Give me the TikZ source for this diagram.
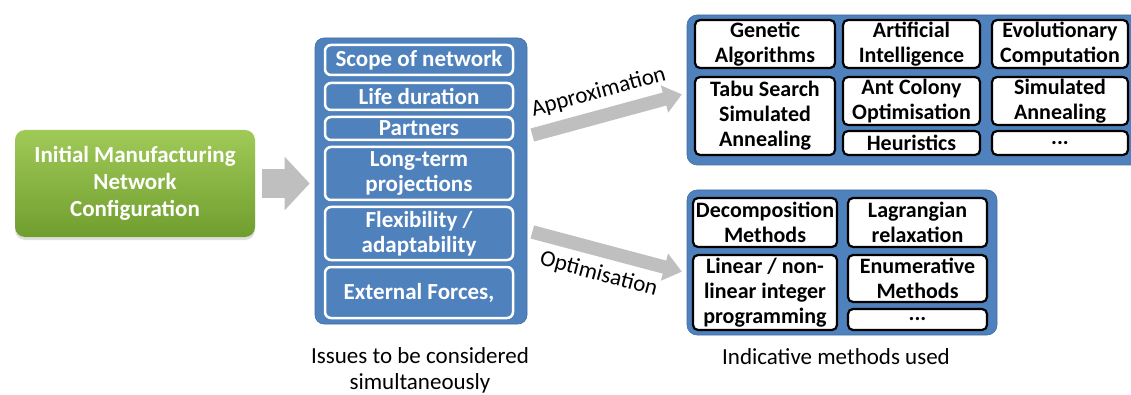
\documentclass[tikz,border=0pt]{standalone}
\usepackage{fontspec}
\setmainfont{Carlito}
\usepackage{tikz}
\usetikzlibrary{arrows.meta,shadows}

\definecolor{panelblue}{RGB}{79,129,189}
\definecolor{arrowgray}{RGB}{191,191,191}
\definecolor{greentop}{RGB}{160,202,88}
\definecolor{greenbot}{RGB}{112,158,46}

\newcommand{\boxfont}{\bfseries\fontsize{22}{25}\selectfont}
\newcommand{\issuefont}{\bfseries\fontsize{23}{25}\selectfont}
\newcommand{\labelfont}{\fontsize{23}{26}\selectfont}

\begin{document}
\begin{tikzpicture}[x=1pt,y=-1pt,
    issuebox/.style={draw=white,line width=2.5pt,fill=panelblue,rounded corners=6pt,
      text=white,font=\issuefont,align=center,inner sep=0pt},
    methodbox/.style={draw=black,line width=2.2pt,fill=white,rounded corners=5pt,
      font=\boxfont,align=center,inner sep=0pt},
    panel/.style={fill=panelblue,draw=panelblue!85!black,line width=0.6pt,rounded corners=10pt,inner sep=0pt},
    bigarrow/.style={draw=arrowgray,line width=29pt,-{Triangle[length=25pt,width=52pt]}},
    thinarrow/.style={draw=arrowgray,line width=13.5pt,-{Triangle[length=18pt,width=27pt]}}]
  \useasboundingbox (0,0) rectangle (1131,395);
  \clip (0,0) rectangle (1131,395);

  % starting point
  \node[rounded corners=10pt,top color=greentop,bottom color=greenbot,
        drop shadow={opacity=0.25,shadow xshift=0pt,shadow yshift=-3pt},
        minimum width=240pt,minimum height=107pt,inner sep=0pt,
        text=white,font=\bfseries\fontsize{23}{27}\selectfont,align=center] (init) at (135,183.5)
        {Initial Manufacturing\\Network\\Configuration};

  % issues column
  \node[panel,rounded corners=9pt,minimum width=212pt,minimum height=286pt] (issues) at (421,181) {};
  \node[issuebox,minimum width=188pt,minimum height=30pt] (scope) at (419,60) {Scope of network};
  \node[issuebox,minimum width=188pt,minimum height=27pt] (life) at (419,96.5) {Life duration};
  \node[issuebox,minimum width=188pt,minimum height=23pt] (partners) at (419,128.5) {Partners};
  \node[issuebox,minimum width=188pt,minimum height=53pt] (longterm) at (419,173.5) {Long-term\\projections};
  \node[issuebox,minimum width=188pt,minimum height=53pt] (flex) at (419,233.5) {Flexibility /\\adaptability};
  \node[issuebox,minimum width=188pt,minimum height=51pt] (external) at (419,292.5) {External Forces,};

  % approximation methods
  \node[panel,minimum width=458pt,minimum height=150pt] (approx) at (916,90) {};
  \node[methodbox,minimum width=140pt,minimum height=48pt] (genetic) at (765,44) {Genetic\\Algorithms};
  \node[methodbox,minimum width=137pt,minimum height=48pt] (artificial) at (911.5,44) {Artificial\\Intelligence};
  \node[methodbox,minimum width=136pt,minimum height=48pt] (evolution) at (1060,44) {Evolutionary\\Computation};
  \node[methodbox,minimum width=140pt,minimum height=78pt] (tabu) at (765,116) {Tabu Search\\Simulated\\Annealing};
  \node[methodbox,minimum width=137pt,minimum height=48pt] (antcol) at (911.5,101) {Ant Colony\\Optimisation};
  \node[methodbox,minimum width=136pt,minimum height=48pt] (simann) at (1060,101) {Simulated\\Annealing};
  \node[methodbox,minimum width=137pt,minimum height=24pt] (heur) at (911.5,143) {Heuristics};
  \node[methodbox,minimum width=136pt,minimum height=24pt] (dotsA) at (1060,143) {...};

  % optimisation methods
  \node[panel,minimum width=310pt,minimum height=145pt] (optim) at (842,262.5) {};
  \node[methodbox,minimum width=144pt,minimum height=49pt] (decomp) at (765,222.5) {Decomposition\\Methods};
  \node[methodbox,minimum width=139pt,minimum height=49pt] (lagrange) at (917.5,222.5) {Lagrangian\\relaxation};
  \node[methodbox,minimum width=144pt,minimum height=75pt] (linear) at (765,292.5) {Linear / non-\\linear integer\\programming};
  \node[methodbox,minimum width=139pt,minimum height=47pt] (enum) at (917.5,278.5) {Enumerative\\Methods};
  \node[methodbox,minimum width=139pt,minimum height=21pt] (dotsB) at (917.5,319.5) {...};

  % captions
  \node[font=\labelfont,align=center] (capissues) at (420,370) {Issues to be considered\\simultaneously};
  \node[font=\labelfont] (capmethods) at (836,357) {Indicative methods used};

  % arrows
  \draw[bigarrow,shorten <=7pt,shorten >=5pt] (init.east) -- (init.east -| issues.west);
  \draw[thinarrow,shorten >=5pt] ([xshift=5pt,yshift=46pt]issues.east)
    -- node[pos=0.47,sloped,above=4pt,font=\labelfont,text=black] {Approximation} ([yshift=-3pt]approx.west);
  \draw[thinarrow,shorten >=5pt] ([xshift=5pt,yshift=-51pt]issues.east)
    -- node[pos=0.47,sloped,below=4pt,font=\labelfont,text=black] {Optimisation} ([yshift=-10.5pt]optim.west);
\end{tikzpicture}
\end{document}
